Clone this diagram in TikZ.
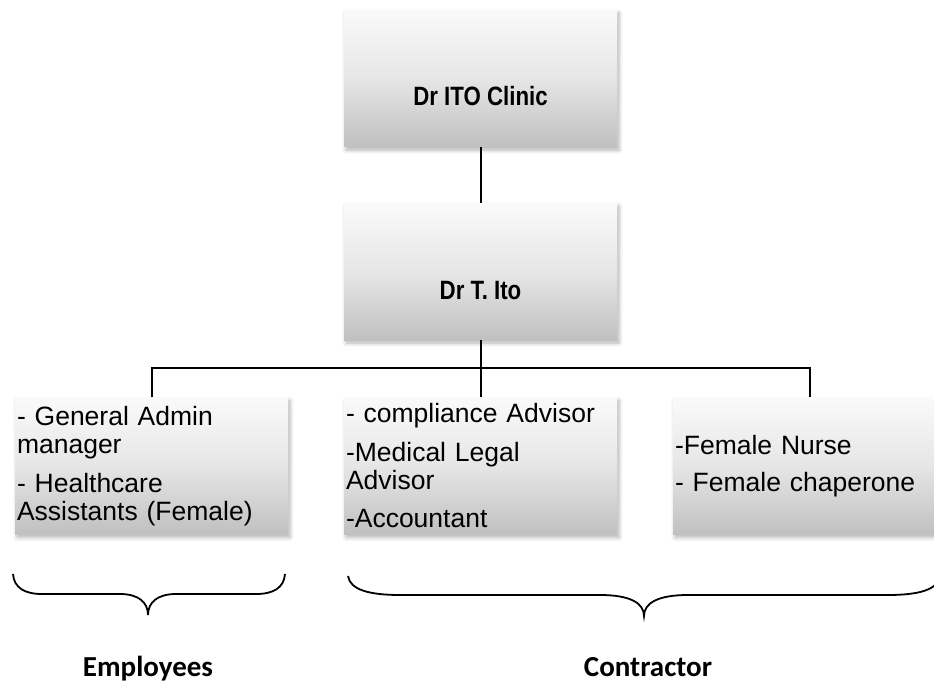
\documentclass[tikz,border=0pt]{standalone}
\usepackage{fontspec}
\setmainfont{Liberation Sans}
\newfontfamily\titlefont[FakeStretch=0.84]{Liberation Sans}
\newfontfamily\calfont{Carlito}
\usetikzlibrary{shadows.blur}
\definecolor{gtop}{RGB}{250,250,250}
\definecolor{gmid}{RGB}{230,230,230}
\definecolor{gbot}{RGB}{192,192,192}
\tikzset{
  orgbox/.style={rectangle, minimum width=273pt, minimum height=137pt, inner sep=0pt,
    top color=gtop, bottom color=gbot, middle color=gmid,
    blur shadow={shadow xshift=2pt, shadow yshift=-3pt, shadow blur steps=6, shadow opacity=30, shadow blur radius=4pt}},
  listbox/.style={orgbox, text width=269pt, inner xsep=2pt, align=left,
    font=\fontsize{26.5}{28}\selectfont},
  titletext/.style={anchor=base, font=\titlefont\bfseries\fontsize{26.5}{30}\selectfont},
  grouptext/.style={anchor=base, font=\calfont\bfseries\fontsize{29}{32}\selectfont},
  conn/.style={line width=2pt, black},
  bracepath/.style={line width=1.8pt, black}
}
\begin{document}
\begin{tikzpicture}[x=1pt, y=-1pt]
\useasboundingbox (0,0) rectangle (934,687);
\node[orgbox] (top) at (480.5,78.5) {};
\node[orgbox] (mid) at (480.5,271.5) {};
\node[titletext] (toptext) at (480.5,106) {Dr ITO Clinic};
\node[titletext] (midtext) at (480.5,299) {Dr T. Ito};
\node[listbox] (b1) at (151.5,466) {- General Admin\\ manager\\[11pt] - Healthcare\\ Assistants (Female)};
\node[listbox] (b2) at (480.5,466) {- compliance Advisor\\[11pt] -Medical Legal\\ Advisor\\[10pt] -Accountant};
\node[listbox] (b3) at (809.5,466) {-Female Nurse\\[9pt] - Female chaperone};
\coordinate (bus) at (480.5,368);
\draw[conn] (top.south) -- (mid.north);
\draw[conn] (mid.south) -- (bus);
\draw[conn] (b1.north) |- (bus) -| (b3.north);
\draw[conn] (bus) -- (b2.north);
% braces
\draw[bracepath] (13,574) .. controls (14,588) and (25,594) .. (42,594) -- (120,594)
  .. controls (138,594) and (148,602) .. (148,615)
  .. controls (148,602) and (158,594) .. (176,594) -- (256,594)
  .. controls (273,594) and (284,588) .. (285,574);
\draw[bracepath] (348,576) .. controls (350,590) and (370,595) .. (400,595) -- (600,595)
  .. controls (630,595) and (644,603) .. (644,616)
  .. controls (644,603) and (658,595) .. (688,595) -- (888,595)
  .. controls (918,595) and (938,590) .. (940,576);
\node[grouptext] (emp) at (148,676) {Employees};
\node[grouptext] (con) at (648,676) {Contractor};
\end{tikzpicture}
\end{document}
